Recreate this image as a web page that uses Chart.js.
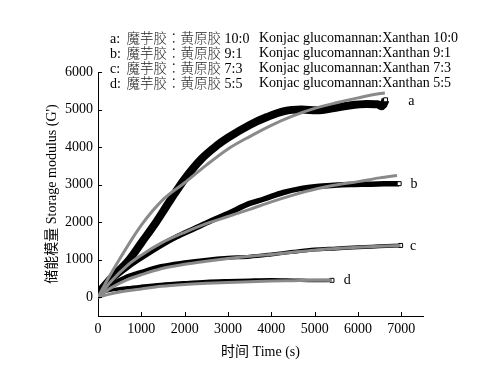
<!DOCTYPE html>
<html>
<head>
<meta charset="utf-8">
<script src="https://cdn.jsdelivr.net/npm/chart.js@4.4.1/dist/chart.umd.min.js"></script>
<style>
html,body{margin:0;padding:0;background:#fff;}
#wrap{position:relative;width:486px;height:365px;}
#c{position:absolute;left:0;top:0;}
#legend{position:absolute;left:110px;top:30px;font-family:'Liberation Serif','Times New Roman',serif;font-size:14px;line-height:15px;color:#000;white-space:nowrap;}
.row{position:relative;height:15px;}
.k{display:inline-block;width:16.5px;}
.cn{font-family:'Noto Sans CJK SC',sans-serif;font-size:13.5px;font-weight:300;color:#222;}
.col{font-family:'Noto Sans CJK TC',sans-serif;font-size:13.5px;font-weight:300;color:#222;}
.en{position:absolute;left:149px;top:0;}
</style>
</head>
<body>
<div id="wrap">
<canvas id="c" width="486" height="365"></canvas>
<div id="legend">
  <div class="row"><span class="k">a:</span><span class="cn">魔芋胶</span><span class="col">：</span><span class="cn">黄原胶</span> 10:0<span class="en">Konjac glucomannan:Xanthan 10:0</span></div>
  <div class="row"><span class="k">b:</span><span class="cn">魔芋胶</span><span class="col">：</span><span class="cn">黄原胶</span> 9:1<span class="en">Konjac glucomannan:Xanthan 9:1</span></div>
  <div class="row"><span class="k">c:</span><span class="cn">魔芋胶</span><span class="col">：</span><span class="cn">黄原胶</span> 7:3<span class="en">Konjac glucomannan:Xanthan 7:3</span></div>
  <div class="row"><span class="k">d:</span><span class="cn">魔芋胶</span><span class="col">：</span><span class="cn">黄原胶</span> 5:5<span class="en">Konjac glucomannan:Xanthan 5:5</span></div>
</div>
</div>
<script>
// ---- data ----
const curveNames = ['a', 'b', 'c', 'd'];

// measured (black) curves
const timeA = [0, 300, 720, 1000, 1340, 1650, 2000, 2400, 2730, 3000, 3500, 3900, 4300, 4700, 5050, 5450, 5800, 6200, 6450, 6530, 6580, 6636];
const gA    = [100, 500, 1000, 1450, 2000, 2550, 3150, 3700, 4030, 4250, 4590, 4800, 4960, 5000, 4980, 5040, 5110, 5150, 5140, 5090, 5120, 5260];

const timeB = [0, 300, 680, 1000, 1455, 1800, 2227, 2600, 3000, 3500, 3812, 4276, 4700, 5050, 5450, 5824, 6200, 6600, 6950];
const gB    = [100, 450, 800, 1050, 1380, 1600, 1830, 2030, 2230, 2500, 2610, 2790, 2900, 2950, 2980, 3000, 3010, 3020, 3025];

const timeC = [0, 300, 680, 1000, 1455, 2000, 2500, 3000, 3500, 4000, 4500, 5000, 5500, 6000, 6500, 6984];
const gC    = [100, 330, 560, 680, 830, 930, 1000, 1050, 1080, 1140, 1210, 1270, 1300, 1330, 1355, 1380];

const timeD = [0, 300, 680, 1000, 1455, 2000, 2500, 3000, 3500, 4000, 4500, 5000, 5400];
const gD    = [100, 190, 250, 290, 340, 385, 420, 440, 455, 465, 455, 445, 450];

// fitted (grey) curves
const fitTimeA = [0, 250, 500, 1000, 1500, 2000, 2500, 3000, 3500, 4000, 4500, 5000, 5500, 6000, 6480, 6620];
const fitA     = [0, 530, 1020, 1920, 2600, 3050, 3520, 3950, 4280, 4580, 4830, 5030, 5180, 5310, 5420, 5440];

const fitTimeB = [0, 300, 680, 1000, 1455, 2000, 2500, 3000, 3500, 4000, 4500, 5050, 5500, 6000, 6500, 6900];
const fitB     = [0, 420, 850, 1120, 1440, 1730, 1960, 2150, 2340, 2540, 2720, 2890, 2990, 3080, 3180, 3245];

const fitTimeC = [0, 300, 680, 1000, 1455, 2000, 2500, 3000, 3500, 4000, 4500, 5000, 5500, 6000, 6500, 6980];
const fitC     = [0, 250, 470, 600, 760, 880, 960, 1030, 1090, 1140, 1200, 1255, 1295, 1330, 1360, 1380];

const fitTimeD = [0, 300, 680, 1000, 1455, 2000, 2500, 3000, 3500, 4000, 4500, 5000, 5400];
const fitD     = [0, 90, 170, 220, 290, 340, 370, 395, 415, 430, 440, 450, 455];

// curve label anchors (data coordinates)
const labelTime = [7230, 7290, 7270, 5750];
const labelG    = [5230, 3000, 1360, 450];

// axis ticks
const xTicks = [0, 1000, 2000, 3000, 4000, 5000, 6000, 7000];
const yTicks = [0, 1000, 2000, 3000, 4000, 5000, 6000];

// ---- chart ----
const SERIF = "'Liberation Serif', 'Times New Roman', serif";
const pts = (xs, ys) => xs.map((x, i) => ({x: x, y: ys[i]}));
const lastOnly = r => (ctx => ctx.dataIndex === ctx.dataset.data.length - 1 ? r : 0);

function measured(xs, ys, w) {
  return {
    data: pts(xs, ys), borderColor: '#000', borderWidth: w, order: 1,
    cubicInterpolationMode: 'monotone', borderCapStyle: 'butt', borderJoinStyle: 'round',
    pointStyle: 'rect', pointRadius: lastOnly(2.8), pointHoverRadius: 0,
    pointBackgroundColor: '#fff', pointBorderColor: '#000', pointBorderWidth: 1
  };
}
function fitted(xs, ys) {
  return {
    data: pts(xs, ys), borderColor: '#8a8a8a', borderWidth: 3, order: 0,
    cubicInterpolationMode: 'monotone', pointRadius: 0, pointHoverRadius: 0,
    borderCapStyle: 'butt'
  };
}

const innerTicks = {
  id: 'innerTicks',
  afterDraw(chart) {
    const {ctx, chartArea, scales: {x, y}} = chart;
    ctx.save();
    ctx.strokeStyle = '#000';
    ctx.lineWidth = 1;
    ctx.beginPath();
    xTicks.forEach(v => {
      const px = Math.round(x.getPixelForValue(v)) + 0.5;
      ctx.moveTo(px, chartArea.bottom);
      ctx.lineTo(px, chartArea.bottom - 4);
    });
    yTicks.forEach(v => {
      const py = Math.round(y.getPixelForValue(v)) + 0.5;
      ctx.moveTo(chartArea.left, py);
      ctx.lineTo(chartArea.left + 4, py);
    });
    ctx.stroke();
    ctx.fillStyle = '#000';
    ctx.font = '14px ' + SERIF;
    ctx.textAlign = 'center';
    ctx.textBaseline = 'middle';
    curveNames.forEach((n, i) => {
      ctx.fillText(n, x.getPixelForValue(labelTime[i]), y.getPixelForValue(labelG[i]));
    });
    ctx.restore();
  }
};

new Chart(document.getElementById('c'), {
  type: 'line',
  data: {
    datasets: [
      measured(timeA, gA, 8),
      measured(timeB, gB, 5.5),
      measured(timeC, gC, 4),
      measured(timeD, gD, 3.5),
      fitted(fitTimeA, fitA),
      fitted(fitTimeB, fitB),
      fitted(fitTimeC, fitC),
      fitted(fitTimeD, fitD)
    ]
  },
  options: {
    responsive: false,
    animation: false,
    devicePixelRatio: 1,
    layout: {padding: {top: 72, right: 63, left: 0, bottom: 0}},
    plugins: {legend: {display: false}, tooltip: {enabled: false}},
    scales: {
      x: {
        type: 'linear', min: 0, max: 7500,
        grid: {display: true, drawOnChartArea: false, drawTicks: false},
        border: {display: true, color: '#000', width: 1},
        ticks: {color: '#000', font: {family: SERIF, size: 14}, padding: 5, maxRotation: 0, autoSkip: false,
                callback: v => String(v)},
        afterBuildTicks: s => { s.ticks = xTicks.map(v => ({value: v})); },
        afterFit: s => { s.height = 49; },
        title: {display: true, text: '时间 Time (s)', color: '#000',
                font: {family: "'Liberation Serif', 'Noto Sans CJK SC', serif", size: 14},
                padding: {top: 0, bottom: 4.6}}
      },
      y: {
        type: 'linear', min: -500, max: 6000,
        grid: {display: true, drawOnChartArea: false, drawTicks: false},
        border: {display: true, color: '#000', width: 1},
        ticks: {color: '#000', font: {family: SERIF, size: 14}, padding: 5, autoSkip: false,
                callback: v => String(v)},
        afterBuildTicks: s => { s.ticks = yTicks.map(v => ({value: v})); },
        afterFit: s => { s.width = 98; },
        title: {display: true, text: "储能模量 Storage modulus (G')", color: '#000',
                font: {family: "'Liberation Serif', 'Noto Sans CJK SC', serif", size: 14},
                padding: {top: 43.6, bottom: 0}}
      }
    }
  },
  plugins: [innerTicks]
});
</script>
</body>
</html>
